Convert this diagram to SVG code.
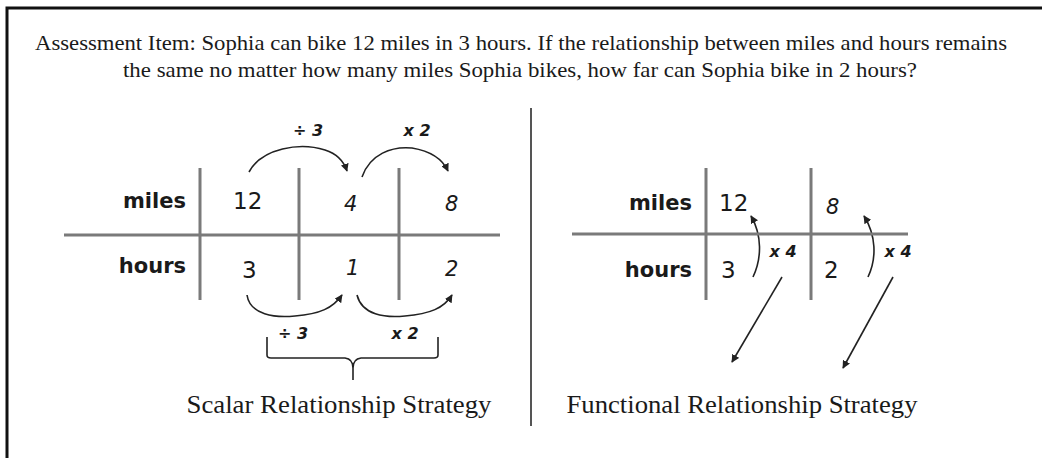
<svg xmlns="http://www.w3.org/2000/svg" width="1042" height="458" viewBox="0 0 1042 458">
<style>
.serif{font-family:"Liberation Serif","Times New Roman",serif;fill:#1a1a1a}
.lab{font-family:"DejaVu Sans","Noto Sans",sans-serif;font-weight:bold;font-size:21px;fill:#1a1a1a;text-anchor:end}
.num{font-family:"DejaVu Sans","Noto Sans",sans-serif;font-size:23px;fill:#1a1a1a}
.hand{font-family:"DejaVu Sans","Noto Sans",sans-serif;font-style:italic;font-size:21px;fill:#1a1a1a}
.op{font-family:"DejaVu Sans","Noto Sans",sans-serif;font-style:italic;font-weight:bold;font-size:16px;fill:#1a1a1a}
.grid{stroke:#7a7a7a;stroke-width:3;fill:none}
.arc{stroke:#222;stroke-width:1.6;fill:none}
</style>
<defs>
<marker id="ah" viewBox="0 0 10 10" refX="9" refY="5" markerWidth="8" markerHeight="8" markerUnits="userSpaceOnUse" orient="auto">
<path d="M0,0 L10,5 L0,10 z" fill="#222"/>
</marker>
</defs>
<rect width="1042" height="458" fill="#fff"/>
<path d="M7,458 V8 H1042" stroke="#111" stroke-width="3" fill="none"/>
<g id="title">
<text class="serif" x="521" y="50" font-size="21" text-anchor="middle" textLength="972" lengthAdjust="spacingAndGlyphs">Assessment Item: Sophia can bike 12 miles in 3 hours. If the relationship between miles and hours remains</text>
<text class="serif" x="520" y="77" font-size="21" text-anchor="middle" textLength="794" lengthAdjust="spacingAndGlyphs">the same no matter how many miles Sophia bikes, how far can Sophia bike in 2 hours?</text>
</g>
<line id="divider" x1="531" y1="108" x2="531" y2="426" stroke="#555" stroke-width="2"/>
<g id="scalar-table">
<path class="grid" d="M64,235 H500 M200,168 V300 M299,168 V300 M399,168 V300"/>
<text class="lab" x="186" y="208">miles</text>
<text class="lab" x="186" y="273">hours</text>
<text class="num" x="233" y="209">12</text>
<text class="num" x="242" y="278">3</text>
<text class="hand" x="344" y="211">4</text>
<text class="hand" x="445" y="211">8</text>
<text class="hand" x="346" y="275">1</text>
<text class="hand" x="445" y="276">2</text>
</g>
<g id="connectors">
<path class="arc" d="M249,172 C262,148 300,142 325,150 C338,154 344,162 347,171" marker-end="url(#ah)"/>
<path class="arc" d="M362,177 C370,154 392,146 412,148 C430,151 442,158 448,171" marker-end="url(#ah)"/>
<path class="arc" d="M247,295 C250,315 275,318 295,316 C320,314 333,308 342,295" marker-end="url(#ah)"/>
<path class="arc" d="M357,295 C362,315 385,318 405,316 C430,314 444,308 452,295" marker-end="url(#ah)"/>
<path class="arc" d="M267,337 V355 Q267,358 271,358 H345 Q353,359 353,368 V380 M438,337 V355 Q438,358 434,358 H361 Q353,359 353,368"/>
<path class="arc" d="M753,277 C762,258 762,235 751,216" marker-end="url(#ah)"/>
<path class="arc" d="M868,277 C877,258 876,235 864,216" marker-end="url(#ah)"/>
<path class="arc" d="M782,277 L732,362" marker-end="url(#ah)"/>
<path class="arc" d="M893,277 L843,368" marker-end="url(#ah)"/>
</g>
<g id="scalar-labels">
<text class="op" x="308" y="136" text-anchor="middle">÷ 3</text>
<text class="op" x="417" y="136" text-anchor="middle">x 2</text>
<text class="op" x="293" y="339" text-anchor="middle">÷ 3</text>
<text class="op" x="405" y="339" text-anchor="middle">x 2</text>
<text class="serif" x="339" y="413" font-size="25" text-anchor="middle" textLength="305" lengthAdjust="spacingAndGlyphs">Scalar Relationship Strategy</text>
</g>
<g id="functional-table">
<path class="grid" d="M572,234 H908 M706,168 V300 M811,168 V300"/>
<text class="lab" x="692" y="210">miles</text>
<text class="lab" x="692" y="277">hours</text>
<text class="num" x="719" y="211">12</text>
<text class="num" x="721" y="278">3</text>
<text class="hand" x="826" y="214">8</text>
<text class="num" x="824" y="278">2</text>
<text class="op" x="783" y="257" text-anchor="middle">x 4</text>
<text class="op" x="898" y="257" text-anchor="middle">x 4</text>
<text class="serif" x="742" y="413" font-size="25" text-anchor="middle" textLength="351" lengthAdjust="spacingAndGlyphs">Functional Relationship Strategy</text>
</g>
</svg>
